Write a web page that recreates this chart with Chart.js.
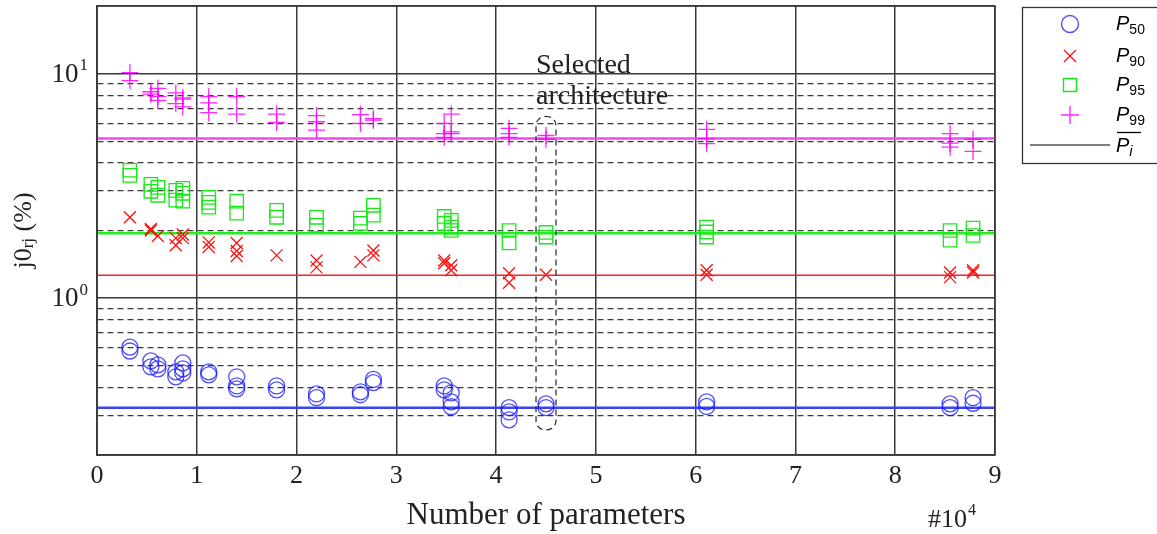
<!DOCTYPE html>
<html>
<head>
<meta charset="utf-8">
<script src="https://cdn.jsdelivr.net/npm/chart.js@4/dist/chart.umd.min.js"></script>
<style>
  html, body { margin: 0; padding: 0; background: #fff; }
</style>
</head>
<body>
<canvas id="chart" width="1157" height="534"></canvas>
<script>
// architectures (number of parameters, x 10^4)
const params = [0.33, 0.54, 0.61, 0.79, 0.86, 1.12, 1.40, 1.80, 2.20, 2.64, 2.77, 3.48, 3.55, 4.13, 4.50, 6.11, 8.55, 8.78];

// percentiles per architecture (several runs each)
const p50 = [[0.605, 0.581], [0.525, 0.494], [0.504, 0.484], [0.469, 0.446], [0.514, 0.484, 0.464],
  [0.469, 0.455], [0.446, 0.406, 0.394], [0.406, 0.39], [0.374, 0.36], [0.382, 0.371], [0.434, 0.42],
  [0.406, 0.39], [0.378, 0.345, 0.328], [0.325, 0.311, 0.287], [0.338, 0.325], [0.345, 0.329],
  [0.338, 0.325], [0.36, 0.34]];
const p90 = [[2.29], [2.03, 2.0], [1.89], [1.85, 1.72], [1.92, 1.85], [1.77, 1.69], [1.76, 1.62, 1.54],
  [1.55], [1.47, 1.37], [1.45], [1.63, 1.55], [1.47, 1.43], [1.40, 1.33], [1.29, 1.17], [1.27],
  [1.33, 1.27], [1.30, 1.24], [1.33, 1.30]];
const p95 = [[3.71, 3.52], [3.21, 2.99], [3.11, 2.87], [3.02, 2.73], [3.08, 2.93, 2.70], [2.81, 2.67, 2.54],
  [2.70, 2.39], [2.46, 2.29], [2.29, 2.11], [2.27, 2.15], [2.59, 2.34], [2.31, 2.15], [2.22, 2.07, 2.00],
  [2.00, 1.76], [1.96, 1.87], [2.07, 1.97, 1.87], [2.00, 1.81], [2.05, 1.90]];
const p99 = [[10.1, 9.3], [8.3, 8.1], [8.6, 7.9, 7.6], [8.2, 7.35], [7.8, 7.7, 7.1], [7.9, 7.4, 6.7],
  [7.9, 6.6], [6.6, 6.06], [6.5, 6.1, 5.6], [6.57, 6.0], [6.3, 6.2], [6.0, 5.4, 5.2], [6.6, 5.5, 5.4],
  [5.7, 5.4, 5.2], [5.3, 5.1], [5.64, 5.13, 4.88], [5.4, 4.9, 4.7], [5.1, 4.5]];

// mean of each percentile over all architectures
const meanValues = [0.325, 1.265, 1.945, 5.14];
const seriesNames = ['50', '90', '95', '99'];

// ticks
const xTicks = [0, 1, 2, 3, 4, 5, 6, 7, 8, 9];
const yTicks = [0.2, 0.3, 0.4, 0.5, 0.6, 0.7, 0.8, 0.9, 1, 2, 3, 4, 5, 6, 7, 8, 9, 10, 20];
const yMajor = [0.2, 1, 10, 20];
const yLabelTicks = [1, 10];
const yLabelExp = ['0', '1'];

// selected architecture box
const selectedParam = 4.5;
const selectedRange = [0.259, 6.44];

const toPoints = vals => params.flatMap((x, i) => vals[i].map(y => ({ x: x, y: y })));
const meanLine = v => [{ x: 0, y: v }, { x: 9, y: v }];

const colors = ['rgba(20,20,255,0.75)', '#ff1010', '#18e818', 'rgba(255,0,255,0.85)'];
const lineColors = ['#3a44f0', '#ff2020', '#22ee22', '#f048f0'];
const styles = ['circle', 'crossRot', 'rect', 'cross'];
const radii = [8, 8.5, 9.5, 8.5];

const datasets = [];
[p50, p90, p95, p99].forEach((vals, i) => {
  datasets.push({
    type: 'line', data: meanLine(meanValues[i]), borderColor: lineColors[i],
    borderWidth: i === 1 ? 1.5 : 2.5, pointRadius: 0, order: 10
  });
});
[p50, p90, p95, p99].forEach((vals, i) => {
  datasets.push({
    type: 'scatter', data: toPoints(vals), pointStyle: styles[i], pointRadius: radii[i],
    borderColor: colors[i], backgroundColor: 'rgba(0,0,0,0)', pointBorderWidth: 1.3, order: 1
  });
});

const GRID = '#3a3a3a';
const SERIF = '"Liberation Serif", "Times New Roman", serif';

// frame, y labels and title, annotation, legend
const extras = {
  id: 'extras',
  afterDraw(chart) {
    const { ctx, chartArea: a, scales } = chart;
    const x = scales.x, y = scales.y;
    ctx.save();
    ctx.strokeStyle = GRID;
    ctx.lineWidth = 1.5;
    ctx.strokeRect(a.left, a.top, a.right - a.left, a.bottom - a.top);

    // y tick labels 10^0, 10^1
    ctx.fillStyle = '#222';
    ctx.textBaseline = 'middle';
    ctx.textAlign = 'right';
    yLabelTicks.forEach((v, i) => {
      const py = y.getPixelForValue(v);
      ctx.font = '17px ' + SERIF;
      ctx.fillText(yLabelExp[i], 88, py - 8);
      const ew = ctx.measureText(yLabelExp[i]).width;
      ctx.font = '27px ' + SERIF;
      ctx.fillText('10', 88 - ew - 1, py + 1);
    });
    ctx.textAlign = 'left';

    // y title  j0_rj (%)
    ctx.translate(24, (a.top + a.bottom) / 2);
    ctx.rotate(-Math.PI / 2);
    const big = '26px ' + SERIF, small = '17px ' + SERIF;
    ctx.font = big; const w1 = ctx.measureText('j0').width;
    ctx.font = small; const w2 = ctx.measureText('rj').width;
    ctx.font = big; const w3 = ctx.measureText(' (%)').width;
    let sx = -(w1 + w2 + w3) / 2;
    ctx.font = big; ctx.fillText('j0', sx, 0); sx += w1;
    ctx.font = small; ctx.fillText('rj', sx, 5); sx += w2;
    ctx.font = big; ctx.fillText(' (%)', sx, 0);
    ctx.restore();

    // x exponent  #10^4
    ctx.save();
    ctx.fillStyle = '#222';
    ctx.textBaseline = 'alphabetic';
    ctx.font = '26px ' + SERIF;
    ctx.fillText('#10', 928, 527);
    const wx = ctx.measureText('#10').width;
    ctx.font = '16px ' + SERIF;
    ctx.fillText('4', 928 + wx + 1, 515);

    // selected architecture
    const bl = x.getPixelForValue(selectedParam - 0.1), br = x.getPixelForValue(selectedParam + 0.1);
    const bt = y.getPixelForValue(selectedRange[1]), bb = y.getPixelForValue(selectedRange[0]);
    ctx.strokeStyle = '#222';
    ctx.lineWidth = 1.2;
    ctx.setLineDash([6, 4]);
    ctx.beginPath();
    ctx.roundRect(bl, bt, br - bl, bb - bt, 9);
    ctx.stroke();
    ctx.setLineDash([]);
    ctx.font = '28px ' + SERIF;
    ctx.fillText('Selected', bl, 73);
    ctx.fillText('architecture', bl, 104);
    ctx.restore();

    // legend
    ctx.save();
    const lx = 1022, ly = 7;
    ctx.fillStyle = '#fff';
    ctx.fillRect(lx, ly, 160, 156);
    ctx.strokeStyle = '#333';
    ctx.lineWidth = 1.3;
    ctx.strokeRect(lx + 0.5, ly + 0.5, 160, 156);
    const rows = [24, 56, 85, 115];
    const mx = 1070;
    rows.forEach((ry, i) => {
      ctx.strokeStyle = colors[i];
      ctx.lineWidth = 1.4;
      ctx.beginPath();
      if (i === 0) {
        ctx.arc(mx, ry, 8.5, 0, Math.PI * 2);
      } else if (i === 1) {
        ctx.moveTo(mx - 6, ry - 6); ctx.lineTo(mx + 6, ry + 6);
        ctx.moveTo(mx + 6, ry - 6); ctx.lineTo(mx - 6, ry + 6);
      } else if (i === 2) {
        ctx.rect(mx - 6.5, ry - 6.5, 13, 13);
      } else {
        ctx.moveTo(mx - 9, ry); ctx.lineTo(mx + 9, ry);
        ctx.moveTo(mx, ry - 9); ctx.lineTo(mx, ry + 9);
      }
      ctx.stroke();
      ctx.fillStyle = '#000';
      ctx.font = 'italic 20px "Liberation Sans", Arial, sans-serif';
      ctx.fillText('P', 1116, ry + 6);
      const pw = ctx.measureText('P').width;
      ctx.font = '14px "Liberation Sans", Arial, sans-serif';
      ctx.fillText(seriesNames[i], 1116 + pw, ry + 10);
    });
    ctx.strokeStyle = '#000';
    ctx.lineWidth = 1.2;
    ctx.beginPath();
    ctx.moveTo(1030, 145); ctx.lineTo(1110, 145);
    ctx.stroke();
    ctx.fillStyle = '#000';
    ctx.font = 'italic 20px "Liberation Sans", Arial, sans-serif';
    ctx.fillText('P', 1116, 152);
    const pw = ctx.measureText('P').width;
    ctx.font = 'italic 15px "Liberation Sans", Arial, sans-serif';
    ctx.fillText('i', 1116 + pw, 156);
    ctx.beginPath();
    ctx.moveTo(1117, 132.5); ctx.lineTo(1141, 132.5);
    ctx.lineWidth = 1.3;
    ctx.stroke();
    ctx.restore();
  }
};

const ctx = document.getElementById('chart').getContext('2d');
const chart = new Chart(ctx, {
  data: { datasets: datasets },
  options: {
    responsive: false,
    animation: false,
    layout: { autoPadding: false, padding: { top: 6, right: 162, left: 0, bottom: 0 } },
    plugins: { legend: { display: false }, tooltip: { enabled: false } },
    scales: {
      x: {
        type: 'linear', min: 0, max: 9,
        afterBuildTicks: s => { s.ticks = xTicks.map(v => ({ value: v })); },
        afterFit: s => { s.height = 79; s.paddingLeft = 0; s.paddingRight = 0; },
        ticks: { font: { family: SERIF, size: 26 }, color: '#222', padding: 6, autoSkip: false, maxRotation: 0 },
        grid: { color: GRID, lineWidth: 1.5, drawTicks: false },
        border: { color: GRID, width: 1.5 },
        title: { display: true, text: 'Number of parameters', font: { family: SERIF, size: 31 }, color: '#222', padding: { top: 0, bottom: 0 } }
      },
      y: {
        type: 'logarithmic', min: 0.2, max: 20,
        afterBuildTicks: s => { s.ticks = yTicks.map(v => ({ value: v })); },
        afterFit: s => { s.width = 97; s.paddingTop = 0; s.paddingBottom = 0; },
        ticks: { display: false },
        grid: { color: GRID, lineWidth: c => (c.tick && yMajor.includes(c.tick.value)) ? 1.5 : 1.3, drawTicks: false },
        border: {
          color: GRID, width: 1.5,
          dash: c => (c.tick && !yMajor.includes(c.tick.value)) ? [6, 4] : []
        }
      }
    }
  },
  plugins: [extras]
});
</script>
</body>
</html>
